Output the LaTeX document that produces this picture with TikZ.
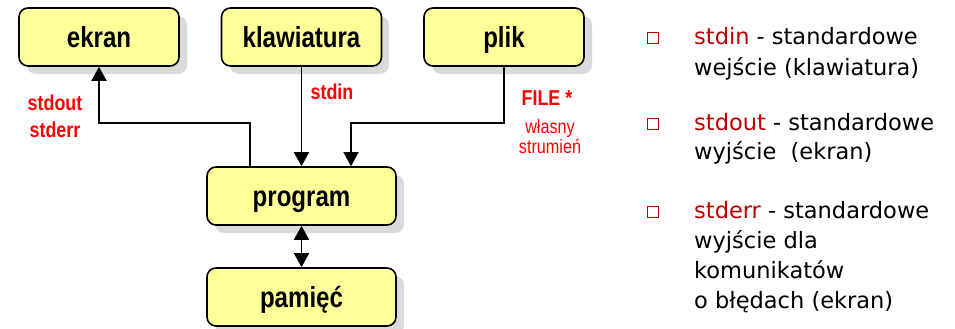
\documentclass[tikz,border=0pt]{standalone}
\usepackage{fontspec}
\setmainfont{Liberation Sans}
\newfontfamily\narrowfont[FakeStretch=0.83]{Liberation Sans}
\newfontfamily\rtfont{DejaVu Sans}
\usetikzlibrary{arrows.meta}
\definecolor{boxfill}{HTML}{FFFF99}
\definecolor{shadowgray}{HTML}{DADADA}
\definecolor{darkred}{HTML}{C00000}
\begin{document}
\begin{tikzpicture}[x=1pt,y=-1pt,
  boxnode/.style={draw=black,line width=1.6pt,fill=boxfill,rounded corners=9pt,
    minimum width=160pt,minimum height=58pt,inner sep=0pt,text height=21pt,text depth=0pt,
    font=\narrowfont\fontsize{29}{32}\selectfont\bfseries},
  bignode/.style={boxnode,minimum width=189pt},
  shadowbox/.style={fill=shadowgray,rounded corners=9pt},
  tip/.tip={Triangle[length=14pt,width=15pt]},
  conn/.style={line width=1.5pt,-tip},
  redlab/.style={anchor=base,text=red,font=\narrowfont\fontsize{21.5}{24}\selectfont\bfseries,inner sep=0pt},
  redsmall/.style={anchor=base,text=red,font=\narrowfont\fontsize{19.5}{22}\selectfont,inner sep=0pt},
  rtext/.style={anchor=base west,inner sep=0pt,font=\rtfont\fontsize{22.5}{26}\selectfont},
  bullet/.style={draw=darkred,line width=1.6pt,minimum size=11pt,inner sep=0pt}
]
\useasboundingbox (0,0) rectangle (955,329);
% shadows
\fill[shadowbox] (27,16) rectangle (187,74);
\fill[shadowbox] (230,16) rectangle (389,74);
\fill[shadowbox] (432,16) rectangle (592,74);
\fill[shadowbox] (215,175) rectangle (404,233);
\fill[shadowbox] (215,276) rectangle (404,334);
% boxes
\node[boxnode] (ekran) at (99,37) {ekran};
\node[boxnode] (klaw) at (301.5,37) {klawiatura};
\node[boxnode] (plik) at (504,37) {plik};
\node[bignode] (program) at (301.5,196) {program};
\node[bignode] (pamiec) at (301.5,297) {pamięć};
% connectors
\coordinate (c1) at (250,123);
\coordinate (c2) at (504,123);
\coordinate (c3) at (351,123);
\draw[conn] (program.north -| c1) -- (c1) -- (c1 -| ekran.south) -- (ekran.south);
\draw[conn] (klaw.south) -- (program.north -| klaw.south);
\draw[conn] (plik.south) -- (c2) -- (c3) -- (program.north -| c3);
\draw[line width=1.5pt,tip-tip] (program.south) -- (pamiec.north);
% labels
\node[redlab] (l1) at (55,110) {stdout};
\node[redlab] (l2) at (55,137) {stderr};
\node[redlab] (l3) at (332,99) {stdin};
\node[redlab] (l4) at (547,105) {FILE *};
\node[redsmall] (l5) at (550,133) {własny};
\node[redsmall] (l6) at (550,153) {strumień};
% right column
\node[bullet] (b1) at (653,38) {};
\node[bullet] (b2) at (653,124) {};
\node[bullet] (b3) at (653,212) {};
\node[rtext] (t1) at (694,45) {\textcolor{darkred}{stdin} - standardowe};
\node[rtext] (t2) at (694,75) {wejście (klawiatura)};
\node[rtext] (t3) at (694,130) {\textcolor{darkred}{stdout} - standardowe};
\node[rtext] (t4) at (694,159) {wyjście~ (ekran)};
\node[rtext] (t5) at (694,218) {\textcolor{darkred}{stderr} - standardowe};
\node[rtext] (t6) at (694,248) {wyjście dla};
\node[rtext] (t7) at (694,278) {komunikatów};
\node[rtext] (t8) at (694,308) {o błędach (ekran)};
\end{tikzpicture}
\end{document}
